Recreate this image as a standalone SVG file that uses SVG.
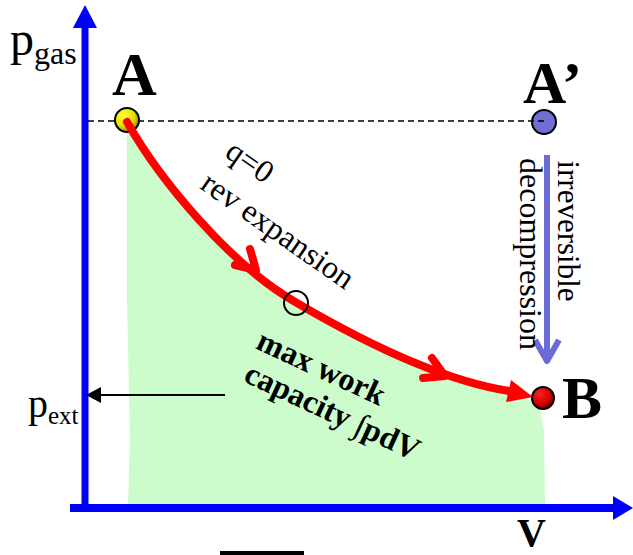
<svg xmlns="http://www.w3.org/2000/svg" width="633" height="555" viewBox="0 0 633 555">
  <defs>
    <radialGradient id="gradA" cx="0.35" cy="0.3" r="0.75">
      <stop offset="0" stop-color="#ffff30"/>
      <stop offset="0.6" stop-color="#e6e000"/>
      <stop offset="1" stop-color="#8a8400"/>
    </radialGradient>
    <radialGradient id="gradB" cx="0.35" cy="0.3" r="0.75">
      <stop offset="0" stop-color="#ff2020"/>
      <stop offset="0.6" stop-color="#d80000"/>
      <stop offset="1" stop-color="#700000"/>
    </radialGradient>
    <style>
      .serif { font-family: "Liberation Serif", "Times New Roman", serif; fill: #000; }
      .bold { font-weight: bold; }
      .axis { stroke: #0000ff; fill: none; }
      .axishead { fill: #0000ff; }
      .red { stroke: #ff0000; fill: none; stroke-width: 8; stroke-linecap: round; stroke-linejoin: round; }
      .dot { stroke: #000; stroke-width: 2; }
    </style>
  </defs>
  <rect width="633" height="555" fill="#ffffff"/>

  <g id="work-region">
    <path d="M127,124 C160,182 230,265 297,303 C360,340 440,380 530,399 L540,410 L544,430 L545,504 L128,504 L130,440 L127,300 Z" fill="#ccfccc"/>
  </g>

  <g id="axes">
    <line class="axis" x1="85" y1="512" x2="85" y2="26" stroke-width="7"/>
    <polygon class="axishead" points="73,28 85,5 97,28"/>
    <line class="axis" x1="70" y1="508" x2="615" y2="508" stroke-width="8"/>
    <polygon class="axishead" points="613,496 633,508 613,520"/>
  </g>

  <g id="point-Aprime">
    <circle class="dot" cx="544" cy="122" r="12" fill="#6e6ed4"/>
    <text class="serif bold" x="523" y="103" font-size="60">A’</text>
  </g>

  <g id="connectors">
    <line x1="88" y1="121" x2="545" y2="121" stroke="#000" stroke-width="1.5" stroke-dasharray="6 4"/>
    <line x1="225" y1="395" x2="98" y2="395" stroke="#000" stroke-width="2"/>
    <polygon points="86,395 101,387 101,403" fill="#000"/>
    <line x1="547" y1="155" x2="547" y2="360" stroke="#6b6bd6" stroke-width="6"/>
    <polyline points="535,340 547,361 559,340" stroke="#6b6bd6" stroke-width="6" fill="none" stroke-linejoin="round"/>
  </g>

  <g id="point-A">
    <circle class="dot" cx="127" cy="120" r="12" fill="url(#gradA)"/>
    <text class="serif bold" x="112" y="95" font-size="62">A</text>
  </g>

  <g id="point-B">
    <circle class="dot" cx="543" cy="398" r="11" fill="url(#gradB)"/>
    <text class="serif bold" x="562" y="418" font-size="60">B</text>
  </g>

  <g id="path-AB">
    <path class="red" d="M127,122 C160,180 230,265 297,303 C360,340 440,380 509,391"/>
    <polyline class="red" points="250,249 256,270 235,265"/>
    <polyline class="red" points="432,358 445,376 423,378"/>
    <polygon points="533,397 511,380 506,402" fill="#ff0000"/>
    <circle cx="296" cy="303" r="12" fill="none" stroke="#000" stroke-width="2"/>
  </g>

  <g id="labels">
    <text class="serif" x="10" y="55" font-size="48">p<tspan font-size="32" dy="9">gas</tspan></text>
    <text class="serif" x="28" y="417" font-size="40">p<tspan font-size="25" dy="7">ext</tspan></text>
    <text class="serif" font-size="32" text-anchor="middle" transform="translate(244,170) rotate(35)">q=0</text>
    <text class="serif" font-size="32" text-anchor="middle" transform="translate(272,239) rotate(35)">rev expansion</text>
    <text class="serif bold" font-size="32" text-anchor="middle" transform="translate(317,377) rotate(25)">max work</text>
    <text class="serif bold" font-size="32" text-anchor="middle" transform="translate(328,421) rotate(25)">capacity ∫pdV</text>
    <text class="serif" font-size="31" text-anchor="middle" transform="translate(558,231) rotate(90)">irreversible</text>
    <text class="serif" font-size="32" text-anchor="middle" transform="translate(520,254) rotate(90)">decompression</text>
    <text class="serif bold" x="517" y="546" font-size="40">V</text>
    <rect x="220" y="551" width="84" height="4" fill="#000"/>
  </g>
</svg>
